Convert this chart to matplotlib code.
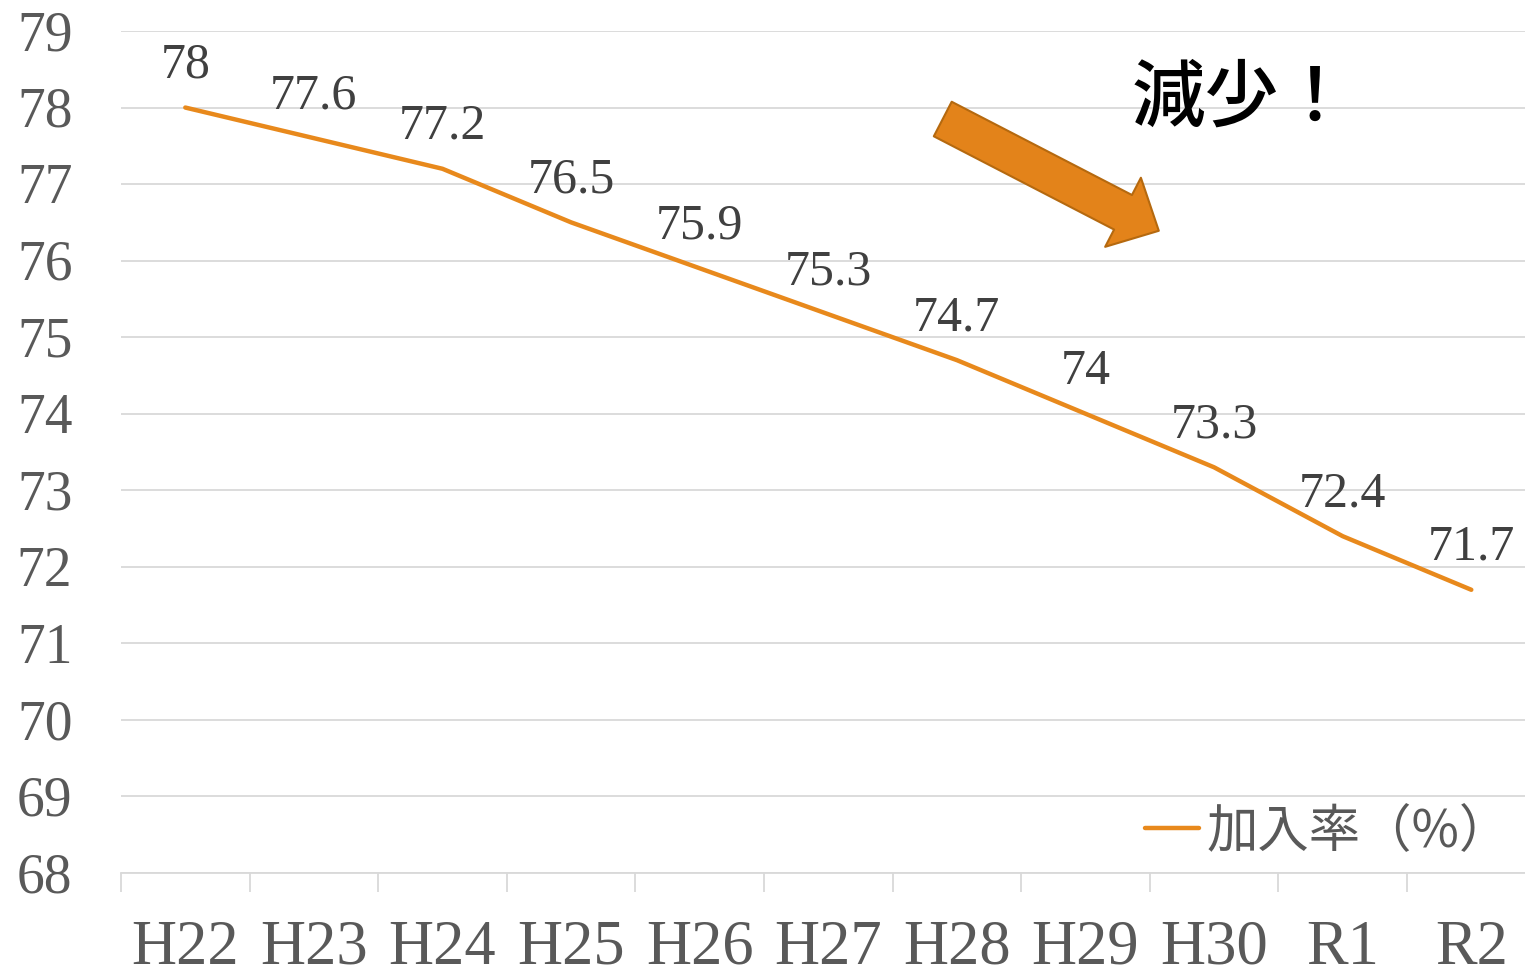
import matplotlib
matplotlib.use("Agg")
import matplotlib.pyplot as plt
from matplotlib.lines import Line2D
import matplotlib.transforms as mtransforms

categories = ["H22", "H23", "H24", "H25", "H26", "H27", "H28", "H29", "H30", "R1", "R2"]
rates = [78, 77.6, 77.2, 76.5, 75.9, 75.3, 74.7, 74, 73.3, 72.4, 71.7]
rate_labels = ["78", "77.6", "77.2", "76.5", "75.9", "75.3", "74.7", "74", "73.3", "72.4", "71.7"]
y_ticks = list(range(68, 80))
legend_label = "加入率（%）"
note_text = "減少！"

LINE = "#E8891C"
GRID = "#D9D9D9"
TXT = "#595959"
SERIF = ["Liberation Serif", "DejaVu Serif"]
CJKF = ["Noto Sans CJK JP", "DejaVu Sans"]

fig = plt.figure(figsize=(15.25, 9.79), dpi=100)
ax = fig.add_axes([121 / 1525, 105 / 979, 1414.6 / 1525, 842 / 979])

x = list(range(len(categories)))
ax.plot(x, rates, color=LINE, lw=3.2, solid_capstyle="round", zorder=3)

for xi, v, lab in zip(x, rates, rate_labels):
    ax.annotate(lab, (xi, v), xytext=(0, 31), textcoords="offset points",
                ha="center", va="center", fontsize=36, color="#404040",
                family=SERIF)

ax.set_xlim(-0.5, len(categories) - 0.5)
ax.set_ylim(68, 79)
ax.set_yticks(y_ticks)
ax.set_yticklabels([str(t) for t in y_ticks], family=SERIF, fontsize=40, color=TXT,
                   va="center")
ax.tick_params(axis="y", length=0, pad=35)
shift = mtransforms.ScaledTranslation(0, -3 / 72, fig.dpi_scale_trans)
for lbl in ax.get_yticklabels():
    lbl.set_transform(lbl.get_transform() + shift)

ax.set_xticks([i - 0.5 for i in range(len(categories) + 1)])
ax.set_xticklabels([])
ax.tick_params(axis="x", which="major", length=13.7, width=1.3, color=GRID, direction="out")
ax.set_xticks(x, minor=True)
ax.set_xticklabels(categories, minor=True, family=SERIF, fontsize=45, color=TXT)
ax.tick_params(axis="x", which="minor", length=0, pad=33)

ax.grid(axis="y", color=GRID, lw=1.3)
ax.set_axisbelow(True)
for s in ["top", "right", "left"]:
    ax.spines[s].set_visible(False)
ax.spines["bottom"].set_color(GRID)
ax.spines["bottom"].set_linewidth(1.3)

# arrow annotation
ax.annotate("", xy=(7.57, 76.39), xytext=(5.89, 77.85),
            arrowprops=dict(arrowstyle="simple,head_length=29,head_width=56,tail_width=28",
                            mutation_scale=1, fc="#E3831A", ec="#B5690F", lw=1.5,
                            shrinkA=0, shrinkB=0), zorder=4)

ax.text(8.22, 78.12, note_text, fontsize=53, color="black", ha="center", va="center",
        family=CJKF, fontweight="medium")

handle = Line2D([], [], color=LINE, lw=3.2, solid_capstyle="round")
leg = ax.legend([handle], [legend_label], loc="center left",
                bbox_to_anchor=((1145 - 121) / 1414.6, (874 - 832) / 842),
                frameon=False, handlelength=1.05, handletextpad=0.15,
                borderaxespad=0, borderpad=0,
                prop={"family": CJKF, "size": 37})
for t in leg.get_texts():
    t.set_color(TXT)

fig.savefig("out.png", dpi=100)
